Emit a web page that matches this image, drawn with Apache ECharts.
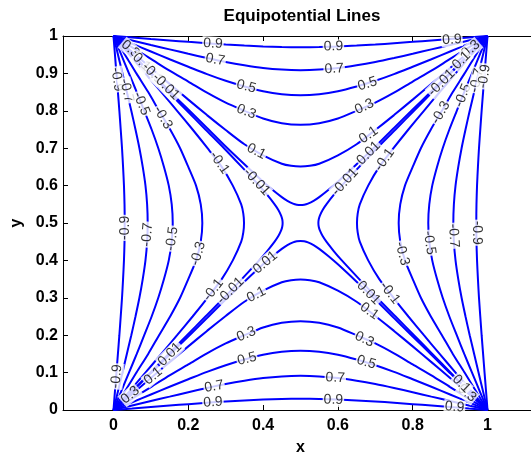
<!DOCTYPE html>
<html><head><meta charset="utf-8">
<script src="https://cdn.jsdelivr.net/npm/echarts@6/dist/echarts.min.js"></script>
<style>html,body{margin:0;padding:0;background:#fff}#c{width:531px;height:454px}</style>
</head><body><div id="c"></div>
<script>
// Contour levels (positive). Field is symmetric: u(x,y)=u(1-x,y)=u(x,1-y) and u(x,y)=-u(y,x),
// so each level is stored once as its lower-left quarter (x from 0 to 0.5).
const levels = [0.9, 0.7, 0.5, 0.3, 0.1, 0.01];
const q_0_9 = [[0,0],[0.05,0.0039],[0.1,0.0079],[0.15,0.0118],[0.2,0.0157],[0.25,0.0193],[0.3,0.0228],[0.35,0.0256],[0.4,0.028],[0.45,0.0295],[0.5,0.030]];
const q_0_7 = [[0,0],[0.05,0.012],[0.1,0.024],[0.15,0.0357],[0.2,0.0476],[0.25,0.0588],[0.3,0.0693],[0.35,0.0782],[0.4,0.0855],[0.45,0.0899],[0.5,0.0914]];
const q_0_5 = [[0,0],[0.05,0.0207],[0.1,0.0414],[0.15,0.0622],[0.2,0.0822],[0.25,0.102],[0.3,0.1198],[0.35,0.135],[0.4,0.1478],[0.45,0.1557],[0.5,0.1584]];
const q_0_3 = [[0,0],[0.05,0.0306],[0.1,0.0613],[0.15,0.0928],[0.2,0.1218],[0.25,0.1515],[0.3,0.1781],[0.35,0.2],[0.4,0.2207],[0.45,0.2333],[0.5,0.2375]];
const q_0_1 = [[0,0],[0.05,0.0427],[0.1,0.0854],[0.15,0.128],[0.2,0.1701],[0.25,0.2115],[0.3,0.2514],[0.35,0.2894],[0.4,0.319],[0.45,0.3415],[0.475,0.3471],[0.5,0.349]];
const q_0_01 = [[0,0],[0.05,0.0493],[0.1,0.0985],[0.15,0.1475],[0.2,0.1966],[0.25,0.2458],[0.3,0.2955],[0.35,0.343],[0.4,0.3895],[0.425,0.4111],[0.45,0.4308],[0.465,0.4408],[0.48,0.4482],[0.49,0.4512],[0.5,0.4522]];
const quarters = [q_0_9, q_0_7, q_0_5, q_0_3, q_0_1, q_0_01];

const xTicks = [0, 0.2, 0.4, 0.6, 0.8, 1];
const yTicks = [0, 0.1, 0.2, 0.3, 0.4, 0.5, 0.6, 0.7, 0.8, 0.9, 1];

// contour labels: [text, x, y, angle]
const contourLabels = [
  ['0.9',0.266,0.0205,3],['0.7',0.269,0.0628,10],['0.5',0.357,0.1365,14],['0.3',0.355,0.2025,22],
  ['0.1',0.382,0.3085,27],['0.01',0.151,0.1485,45],['0.1',0.106,0.0905,40],['-0.1',0.267,0.321,52],
  ['-0.01',0.313,0.319,45],['0.01',0.406,0.3945,40],
  ['-0.9',0.030,0.487,90],['-0.7',0.0906,0.469,85],['-0.5',0.1565,0.458,82],['-0.3',0.2262,0.418,74],
  ['-0.1',0.2835,0.661,-55],['-0.01',0.383,0.61,-47],
  ['0.9',0.266,0.9795,-3],['0.7',0.272,0.9366,-10],['0.5',0.355,0.865,-15],['0.3',0.355,0.7975,-22],['0.1',0.382,0.6915,-27],
  ['-0.9',0.0092,0.884,-82],['-0.7',0.035,0.854,-76],['-0.5',0.0745,0.819,-68],['-0.3',0.132,0.782,-60],
  ['0.3',0.045,0.965,-40],['0.1',0.075,0.93,-45],['-0.1',0.105,0.9,-45],['-0.01',0.14,0.865,-45],
  ['0.9',0.588,0.972,1],['0.7',0.590,0.912,3],['0.5',0.679,0.872,17],['0.3',0.671,0.811,25],['0.1',0.682,0.7355,35],
  ['0.01',0.682,0.687,45],['-0.01',0.877,0.875,45],['-0.3',0.875,0.795,60],['-0.5',0.934,0.841,68],
  ['-0.7',0.9714,0.881,76],['-0.9',0.9915,0.892,82],['0.9',0.905,0.99,4],['-0.1',0.7247,0.669,55],['-0.01',0.619,0.61,47],
  ['0.3',0.955,0.965,40],['0.1',0.93,0.935,45],
  ['0.9',0.588,0.027,-1],['0.7',0.593,0.086,-3],['0.5',0.676,0.1275,-17],['0.3',0.671,0.189,-25],['0.1',0.684,0.264,-35],
  ['0.01',0.682,0.313,-45],['-0.1',0.739,0.313,-52],['0.9',0.912,0.008,-5],
  ['-0.3',0.772,0.418,-75],['-0.5',0.8446,0.447,-82],['-0.7',0.9093,0.466,-86],['-0.9',0.9703,0.474,-90],
  ['0.3',0.945,0.045,-40],['0.1',0.93,0.07,-45],['-0.9',0.008,0.09,85],['0.3',0.045,0.04,40]
];

function lowerBranch(q) {
  const pts = q.map(p => [p[0], p[1]]);
  for (let i = q.length - 2; i >= 0; i--) pts.push([1 - q[i][0], q[i][1]]);
  return pts;
}
const lineStyle = {color: '#0000ff', width: 2};
const series = [];
quarters.forEach((q, k) => {
  const low = lowerBranch(q);
  const branches = [
    low,                                  // +level, bottom
    low.map(p => [p[0], 1 - p[1]]),       // +level, top
    low.map(p => [p[1], p[0]]),           // -level, left
    low.map(p => [1 - p[1], p[0]])        // -level, right
  ];
  branches.forEach(b => series.push({
    type: 'line', data: b, showSymbol: false, smooth: 0.25, lineStyle: lineStyle,
    silent: true, z: 2, clip: true
  }));
});
series.push({
  type: 'scatter', z: 10, symbolSize: 1, itemStyle: {color: 'rgba(0,0,0,0)'}, silent: true,
  data: contourLabels.map(l => ({value: [l[1], l[2]], t: l[0], label: {rotate: l[3]}})),
  label: {
    show: true, position: 'inside', formatter: p => p.data.t, color: '#000',
    fontFamily: 'Liberation Sans, Arial, sans-serif', fontSize: 14, backgroundColor: '#fff',
    padding: [0, 1], lineHeight: 14
  }
});

const chart = echarts.init(document.getElementById('c'), null, {renderer: 'canvas'});
const boldText = {fontFamily: 'Liberation Sans, Arial, sans-serif', fontWeight: 'bold', fontSize: 16, color: '#000'};
const fmt = v => (Math.abs(v) < 1e-9 ? '0' : Math.abs(v - 1) < 1e-9 ? '1' : (Math.round(v * 10) / 10).toString());
chart.setOption({
  animation: false,
  backgroundColor: '#fff',
  title: {text: 'Equipotential Lines', left: 297, top: 3, textAlign: 'center',
    textStyle: {fontFamily: 'Liberation Sans, Arial, sans-serif', fontWeight: 'bold', fontSize: 17, color: '#000'}},
  grid: {left: 63, top: 36, width: 475, height: 374, containLabel: false, outerBoundsMode: 'none'},
  xAxis: [{
    type: 'value', min: -0.135, max: 1.135, position: 'bottom',
    axisLine: {show: true, onZero: false, lineStyle: {color: '#000', width: 1}},
    axisTick: {show: true, inside: true, length: 5, customValues: xTicks, lineStyle: {color: '#000'}},
    axisLabel: Object.assign({show: true, customValues: xTicks, formatter: fmt, margin: 8}, boldText),
    splitLine: {show: false},
    name: 'x', nameLocation: 'middle', nameGap: 30,
    nameTextStyle: Object.assign({}, boldText)
  }, {
    type: 'value', min: -0.135, max: 1.135, position: 'top',
    axisLine: {show: true, onZero: false, lineStyle: {color: '#000', width: 1}},
    axisTick: {show: true, inside: true, length: 5, customValues: xTicks, lineStyle: {color: '#000'}},
    axisLabel: {show: false}, splitLine: {show: false}
  }],
  yAxis: [{
    type: 'value', min: 0, max: 1, interval: 0.1,
    axisLine: {show: true, onZero: false, lineStyle: {color: '#000', width: 1}},
    axisTick: {show: true, inside: true, length: 5, lineStyle: {color: '#000'}},
    axisLabel: Object.assign({show: true, formatter: fmt, margin: 5}, boldText),
    splitLine: {show: false},
    name: 'y', nameLocation: 'middle', nameGap: 35, nameRotate: 90,
    nameTextStyle: Object.assign({}, boldText)
  }],
  series: series
});
</script></body></html>
